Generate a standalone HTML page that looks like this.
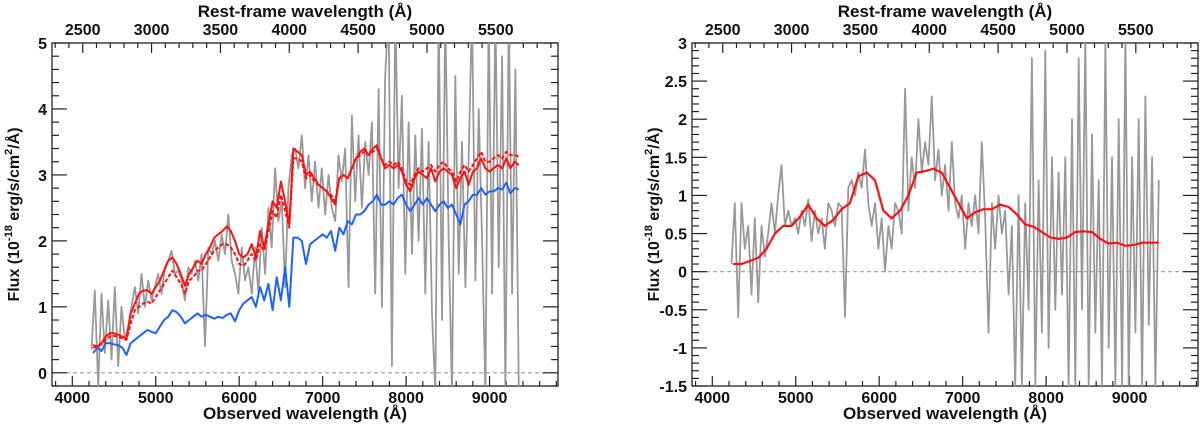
<!DOCTYPE html>
<html><head><meta charset="utf-8">
<style>
html,body{margin:0;padding:0;background:#fff;}
svg{display:block;font-family:"Liberation Sans",Arial,sans-serif;font-weight:bold;}
</style></head>
<body>
<svg id="chart" width="1200" height="425" viewBox="0 0 1200 425" xmlns="http://www.w3.org/2000/svg"></svg>
<script>
// ---- data ----
const gridStart = 4250, gridStep = 50;
const blueFlux = [.30,.38,.33,.45,.45,.43,.42,.38,.27,.45,
.50,.55,.60,.65,.62,.60,.70,.80,.85,.95,
.92,.85,.75,.80,.85,.90,.85,.88,.85,.82,
.85,.83,.88,.90,.78,.95,1.05,1.10,1.15,1.00,
1.30,1.10,1.35,.95,1.45,1.10,1.60,1.00,2.05,2.05,
2.00,1.65,1.95,2.00,2.05,2.10,2.05,2.15,1.85,2.20,
2.10,2.30,2.25,2.40,2.40,2.45,2.55,2.60,2.70,2.55,
2.55,2.60,2.55,2.65,2.70,2.55,2.45,2.55,2.65,2.55,
2.65,2.55,2.45,2.55,2.60,2.50,2.55,2.40,2.25,2.55,
2.60,2.70,2.70,2.80,2.70,2.75,2.75,2.80,2.78,2.88,
2.72,2.80,2.78];
const redFlux = [.42,.40,.45,.55,.60,.60,.58,.55,.52,.90,
1.05,1.20,1.25,1.25,1.20,1.30,1.40,1.55,1.70,1.75,
1.65,1.50,1.32,1.50,1.60,1.70,1.65,1.80,1.90,2.05,
2.10,2.15,2.22,2.15,2.00,1.80,1.75,1.80,1.95,1.75,
2.15,1.90,2.25,2.60,2.50,2.90,2.60,2.25,3.40,3.35,
3.30,3.00,3.05,2.95,2.85,2.80,2.75,2.65,2.55,2.95,
3.00,2.95,3.10,3.25,3.35,3.40,3.30,3.40,3.45,3.25,
3.10,3.15,3.10,3.15,3.05,2.85,2.75,2.95,3.05,3.00,
2.95,3.10,2.90,3.05,3.10,3.05,3.00,2.80,2.95,3.05,
2.85,3.05,3.10,3.25,3.10,3.05,3.10,3.15,3.10,3.25,
3.10,3.20,3.15];
const redDashFlux = [.38,.40,.43,.50,.55,.56,.55,.52,.50,.75,
.95,1.00,1.05,1.08,1.05,1.15,1.25,1.35,1.45,1.55,
1.45,1.35,1.20,1.40,1.45,1.55,1.55,1.65,1.75,1.85,
1.90,1.95,1.95,1.90,1.80,1.65,1.62,1.70,1.80,1.70,
1.95,1.85,2.15,2.45,2.35,2.70,2.45,2.20,3.25,3.25,
3.20,2.95,3.00,2.90,2.85,2.80,2.75,2.70,2.60,2.95,
3.00,2.95,3.10,3.25,3.30,3.35,3.30,3.35,3.40,3.25,
3.15,3.20,3.15,3.20,3.10,2.90,2.85,3.00,3.10,3.05,
3.10,3.15,3.05,3.15,3.20,3.10,3.05,2.90,3.05,3.15,
3.05,3.15,3.25,3.35,3.20,3.20,3.25,3.30,3.25,3.35,
3.30,3.30,3.28];
const grayStart = 4230, grayStep = 40;
const grayFlux = [.35,1.25,-.2,1.2,.3,1.1,.2,1.3,.1,1.0,
.5,.7,1.0,1.3,.9,1.5,1.0,1.4,1.1,1.3,
1.5,1.2,1.6,1.7,1.85,1.5,1.55,1.4,1.1,1.6,
1.5,1.7,1.4,1.8,.4,1.9,1.8,2.0,1.7,2.1,
1.8,2.4,1.7,1.5,1.2,1.9,1.4,1.6,1.2,1.9,
1.2,2.2,1.5,2.5,1.9,3.1,2.3,2.6,1.3,2.8,
3.3,3.4,3.1,3.6,2.8,3.3,2.6,3.2,2.5,3.1,
2.4,3.0,2.5,2.3,3.3,2.9,3.4,1.3,3.9,2.6,
3.6,2.5,3.5,3.0,3.8,1.2,4.3,1.0,4.5,5.5,
.1,5.5,2.8,4.2,1.5,3.8,1.8,3.6,2.0,3.7,
1.2,3.5,.9,-.3,5.5,.8,5.5,2.0,-.3,4.5,
1.5,3.5,1.3,3.3,5.5,1.4,4.0,2.0,-.3,5.5,
1.2,5.5,1.6,4.8,-.3,5.5,1.2,4.6,-.3];
const residFlux = [.1,.9,-.6,.9,.3,.6,-.3,.7,-.4,.6,
.2,.5,.9,.5,1.0,1.4,.6,.8,.6,.7,
.5,.8,.6,.95,.4,.8,.5,.7,.3,.9,
.8,.6,.9,.85,-.6,1.1,1.2,1.0,1.3,1.1,
1.6,.9,.6,.9,.3,.7,.0,.6,.3,.9,
.8,.5,2.4,.8,1.5,1.1,2.0,1.3,1.7,1.4,
2.3,1.2,1.6,1.0,1.4,.8,1.7,.9,.7,1.0,
.3,.9,.6,1.0,.5,1.7,.7,-.8,.9,.3,
1.0,.5,.8,-.3,.6,-1.5,1.0,-1.5,.9,-.5,
2.8,-1.5,1.2,-.8,2.9,-1.0,1.5,-.5,1.3,-.3,
1.5,-1.5,2.0,-1.5,2.8,-.5,3.1,-1.5,1.8,-.8,
1.2,-1.5,3.0,-1.0,1.5,-1.5,2.0,-1.5,3.1,-1.5,
1.5,-.8,2.0,-1.5,2.3,-.7,1.5,-1.5,1.2];
const smoothStart = 4250, smoothStep = 100;
const smoothFlux = [.10,.10,.14,.18,.30,.50,.60,.60,.72,.88,
.70,.60,.68,.82,.90,1.25,1.30,1.20,.80,.70,
.80,1.00,1.30,1.32,1.35,1.30,1.10,.90,.70,.78,
.82,.82,.88,.85,.75,.62,.59,.52,.45,.43,
.45,.52,.53,.52,.43,.37,.38,.34,.35,.38,
.38,.38];
const xTicksObs = [4000,5000,6000,7000,8000,9000];
const xTicksRest = [2500,3000,3500,4000,4500,5000,5500];
const yTicksLeft = ["0","1","2","3","4","5"];
const yTicksRight = ["-1.5","-1","-0.5","0","0.5","1","1.5","2","2.5","3"];
const redshift = 0.65;

// ---- layout ----
const NS = "http://www.w3.org/2000/svg";
const svg = document.getElementById('chart');
const XMIN = 3757, XMAX = 9820;
const TOP = 43, BOT = 386, W = 506;
function mk(tag, attrs, parent){ const e=document.createElementNS(NS,tag); for(const k in attrs) e.setAttribute(k,attrs[k]); (parent||svg).appendChild(e); return e; }

function panel(id, left, ymin, ymax, minorY, majorY, yLabels){
  const g = mk('g',{});
  
  
  const xs = w => left + (w - XMIN) / (XMAX - XMIN) * W;
  const ys = v => BOT - (v - ymin) / (ymax - ymin) * (BOT - TOP);
  const clip = mk('clipPath',{id:id+'-clip'}, g);
  mk('rect',{x:left,y:TOP,width:W,height:BOT-TOP}, clip);
  // zero line
  const zl = mk('line',{x1:left,x2:left+W,y1:ys(0),y2:ys(0),stroke:'#999','stroke-width':1.2,'stroke-dasharray':'4,3'}, g);
  
  
  // frame
  const fr = mk('rect',{x:left,y:TOP,width:W,height:BOT-TOP,fill:'none',stroke:'#222','stroke-width':1.3}, g);
  
  
  // x ticks bottom (obs)
  for(let w=3800; w<=9800; w+=200){
    const maj = w % 1000 === 0;
    mk('line',{x1:xs(w),x2:xs(w),y1:BOT,y2:BOT-(maj?10:5),stroke:'#222','stroke-width':1.2}, g);
  }
  xTicksObs.forEach(w=>{
    const t = mk('text',{x:xs(w),y:403,'text-anchor':'middle','font-size':16,fill:'#111'}, g);
    t.textContent = w;
    
    
  });
  // top ticks (rest)
  for(let r=2300; r<=5900; r+=100){
    const w = r*(1+redshift); if(w<XMIN||w>XMAX) continue;
    const maj = r % 500 === 0;
    mk('line',{x1:xs(w),x2:xs(w),y1:TOP,y2:TOP+(maj?10:5),stroke:'#222','stroke-width':1.2}, g);
  }
  xTicksRest.forEach(r=>{
    const t = mk('text',{x:xs(r*(1+redshift)),y:35,'text-anchor':'middle','font-size':16,fill:'#111'}, g);
    t.textContent = r;
    
    
  });
  // y ticks
  const nMinor = Math.round((ymax-ymin)/minorY);
  for(let i=0;i<=nMinor;i++){
    const v = ymin + i*minorY;
    const maj = Math.abs(v/majorY - Math.round(v/majorY)) < 1e-6;
    mk('line',{x1:left,x2:left+(maj?15:7),y1:ys(v),y2:ys(v),stroke:'#222','stroke-width':1.2}, g);
    mk('line',{x1:left+W,x2:left+W-(maj?15:7),y1:ys(v),y2:ys(v),stroke:'#222','stroke-width':1.2}, g);
  }
  yLabels.forEach(s=>{
    const t = mk('text',{x:left-5,y:ys(parseFloat(s))+6,'text-anchor':'end','font-size':16,fill:'#111'}, g);
    t.textContent = s;
    
    
  });
  // titles
  const tt = mk('text',{x:left+W/2,y:17,'text-anchor':'middle','font-size':17,fill:'#111'}, g);
  tt.textContent = 'Rest-frame wavelength (Å)';
  
  
  const bt = mk('text',{x:left+W/2,y:419,'text-anchor':'middle','font-size':17,fill:'#111'}, g);
  bt.textContent = 'Observed wavelength (Å)';
  
  
  const yt = mk('text',{x:0,y:0,'text-anchor':'middle','font-size':16,fill:'#111',transform:`translate(${left-33},${(TOP+BOT)/2}) rotate(-90)`}, g);
  yt.innerHTML = 'Flux (10<tspan dy="-7" font-size="11">-18</tspan><tspan dy="7"> erg/s/cm</tspan><tspan dy="-7" font-size="11">2</tspan><tspan dy="7">/Å)</tspan>';
  
  
  const plot = mk('g',{'clip-path':`url(#${id}-clip)`}, g);
  return {xs, ys, plot};
}
function line(p, start, step, vals, attrs, name){
  const pts = vals.map((v,i)=>p.xs(start+i*step).toFixed(1)+','+p.ys(v).toFixed(1)).join(' ');
  const e = mk('polyline', Object.assign({points:pts, fill:'none','stroke-linejoin':'round'}, attrs), p.plot);
  
  
}

const L = panel('left-panel', 52, -0.2, 5, 0.2, 1, yTicksLeft);
line(L, grayStart, grayStep, grayFlux, {stroke:'#999','stroke-width':1.8}, 'observed-spectrum');
line(L, gridStart, gridStep, blueFlux, {stroke:'#2060ff','stroke-width':2}, 'blue-model');
line(L, gridStart, gridStep, redDashFlux, {stroke:'#ff1010','stroke-width':2,'stroke-dasharray':'4,2'}, 'red-dashed-model');
line(L, gridStart, gridStep, redFlux, {stroke:'#ff1010','stroke-width':2}, 'red-model');

const R = panel('right-panel', 692, -1.5, 3, 0.1, 0.5, yTicksRight);
line(R, grayStart, grayStep, residFlux, {stroke:'#999','stroke-width':1.8}, 'residual-spectrum');
line(R, smoothStart, smoothStep, smoothFlux, {stroke:'#ff1010','stroke-width':2.2}, 'smoothed-residual');
</script>
</body></html>
